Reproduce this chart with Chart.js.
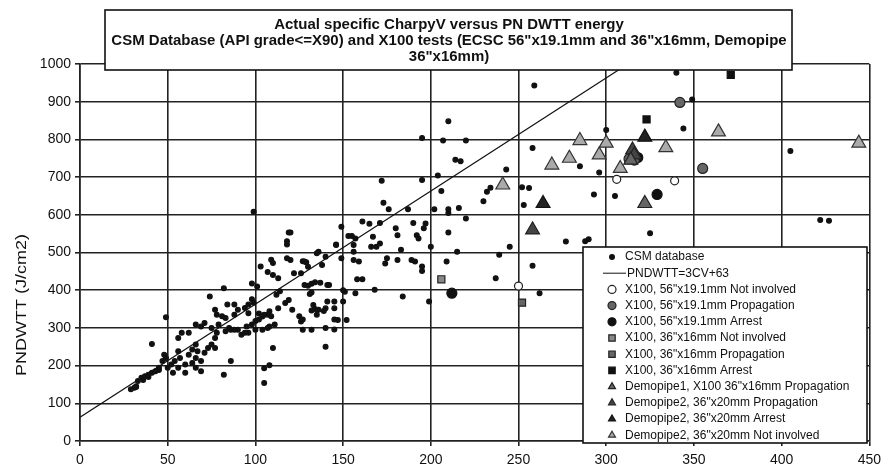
<!DOCTYPE html>
<html>
<head>
<meta charset="utf-8">
<script src="https://cdn.jsdelivr.net/npm/chart.js@4/dist/chart.umd.min.js"></script>
<style>
  html, body { margin: 0; padding: 0; background: #fff; }
  canvas { display: block; }
</style>
</head>
<body>
<canvas id="dwtt-chart" width="887" height="468"></canvas>
<script>
// Charpy V energy (J) vs PN DWTT energy (J/cm2)
const titleLines = [
    'Actual specific CharpyV versus PN DWTT energy',
    'CSM Database (API grade<=X90) and X100 tests (ECSC 56"x19.1mm and 36"x16mm, Demopipe',
    '36"x16mm)'
];
const yTitle = 'PNDWTT (J/cm2)';

const csmDatabase = [
    [29,137],[31,141],[32,145],[33,159],[32,143],[36,162],[39,170],[35,168],[37,172],[39,176],
    [41,181],[43,185],[45,188],[45,194],[47,212],[48,229],[49,220],[50,194],[52,203],[53,181],
    [54,212],[56,194],[56,238],[56,273],[57,220],[58,287],[60,181],[60,203],[62,229],[62,287],
    [64,207],[64,243],[66,194],[66,220],[66,256],[66,309],[67,238],[69,185],[69,212],[69,304],
    [71,234],[71,313],[73,247],[75,256],[75,300],[77,247],[77,273],[78,287],[78,335],[79,309],
    [41,257],[49,328],[74,383],[77,348],[82,405],[82,176],[86,212],[83,291],[83,326],[81,331],
    [85,300],[86,295],[88,295],[90,295],[92,282],[94,287],[95,304],[98,309],[100,318],[102,322],
    [105,335],[108,344],[111,309],[108,304],[107,300],[104,295],[100,295],[96,287],[88,335],[90,348],
    [94,353],[96,362],[88,362],[84,362],[98,376],[99,367],[102,338],[104,330],[96,339],[107,335],
    [109,331],[113,352],[117,366],[119,374],[121,348],[125,331],[127,322],[132,346],[134,350],[135,335],
    [140,352],[145,352],[145,322],[127,295],[132,295],[140,300],[145,296],[110,247],[140,250],[105,193],
    [108,201],[105,154],
    [99,608],[119,553],[120,553],[118,521],[118,530],[146,521],[136,502],[109,481],[110,472],[103,463],
    [118,485],[120,480],[128,476],[130,462],[140,489],[107,448],[110,440],[98,418],[101,410],[113,432],
    [122,445],[126,445],[132,417],[130,412],[141,414],[114,397],[112,388],
    [126,317],[131,390],[132,394],[128,414],[142,414],[137,420],[134,421],[127,477],[129,474],[135,498],
    [138,467],[139,345],[136,348],[133,361],[141,370],[145,370],[150,370],[147,321],[152,321],[151,396],
    [150,400],[157,392],[158,429],[161,429],[168,401],[184,383],[199,370],[149,485],[156,480],[159,476],
    [156,502],[146,520],[156,520],[166,515],[169,515],[171,524],[153,544],[155,544],[157,537],[167,542],
    [149,568],[161,582],[165,576],[171,578],[180,564],[181,546],[190,578],[192,546],[193,537],[196,564],
    [197,577],[175,485],[174,471],[181,480],[183,507],[189,480],[191,476],[195,463],[195,451],[200,515],
    [209,476],[215,502],[210,553],[220,590],[173,632],[176,615],[187,615],[202,615],[210,615],[210,605],
    [216,618],[230,636],[232,661],[234,672],[252,673],[256,671],[253,626],[206,663],[172,690],[195,692],
    [204,704],[243,720],[214,746],[217,742],[258,777],[195,804],[207,797],[220,797],[210,848],[259,943],
    [245,515],[239,494],[237,432],[258,465],[262,392],[277,529],[288,530],
    [349,906],[340,977],[344,829],[300,825],[405,769],[285,729],[296,712],[293,654],[305,650],[422,586],
    [427,584],[325,551],[290,535]
];

// PNDWTT = 3CV + 63, end points
const fitLine = [[0,63],[312.3,1000]];

const x100_56_notInvolved = [[250,411],[306,694],[339,690]];
const x100_56_propagation = [[342,898],[355,723],[316,745],[313,748]];
const x100_56_arrest = [[212,392],[329,654],[318,752]];
const x100_36_notInvolved = [[206,429]];
const x100_36_propagation = [[252,367]];
const x100_36_arrest = [[371,971],[323,853]];
const demo1_propagation = [[322,630],[314,745]];
const demo2_propagation = [[258,560],[315,772],[316,759]];
const demo2_arrest = [[264,630],[322,806]];
const demo2_notInvolved = [[241,679],[269,732],[279,750],[285,797],[300,790],[296,759],[334,778],[364,820],[444,790],[308,723]];

const toXY = pts => pts.map(p => ({x: p[0], y: p[1]}));

function series(label, pts, style, radius, fill, border, order) {
    return {
        label: label,
        data: toXY(pts),
        pointStyle: style,
        pointRadius: radius,
        pointHoverRadius: radius,
        backgroundColor: fill,
        borderColor: border,
        borderWidth: 1.2,
        order: order
    };
}

const FONT = '"Liberation Sans", Arial, sans-serif';

// white boxed title over the top of the plot, plus the y axis title
const titleBox = {
    id: 'titleBox',
    afterDraw(chart) {
        const ctx = chart.ctx;
        ctx.save();
        ctx.fillStyle = '#fff';
        ctx.fillRect(105, 10, 687, 60);
        ctx.strokeStyle = '#111';
        ctx.lineWidth = 1.6;
        ctx.strokeRect(105, 10, 687, 60);
        ctx.fillStyle = '#111';
        ctx.font = 'bold 14px ' + FONT;
        ctx.textAlign = 'center';
        ctx.textBaseline = 'middle';
        titleLines.forEach((t, i) => {
            ctx.save();
            ctx.translate(449, 25 + i * 16);
            ctx.scale(1.07, 1);
            ctx.fillText(t, 0, 0);
            ctx.restore();
        });
        ctx.translate(22, 305);
        ctx.rotate(-Math.PI / 2);
        ctx.scale(1.2, 1);
        ctx.font = '15px ' + FONT;
        ctx.fillText(yTitle, 0, 0);
        ctx.restore();
    }
};

function marker(ctx, ds, x, y) {
    const r = ds.pointRadius;
    ctx.fillStyle = ds.backgroundColor;
    ctx.strokeStyle = ds.borderColor;
    ctx.lineWidth = ds.borderWidth;
    ctx.beginPath();
    if (ds.pointStyle === 'rect') {
        ctx.rect(x - r * 0.8, y - r * 0.8, r * 1.6, r * 1.6);
    } else if (ds.pointStyle === 'triangle') {
        ctx.moveTo(x, y - r);
        ctx.lineTo(x + r * 0.87, y + r * 0.5);
        ctx.lineTo(x - r * 0.87, y + r * 0.5);
        ctx.closePath();
    } else {
        ctx.arc(x, y, r, 0, Math.PI * 2);
    }
    ctx.fill();
    ctx.stroke();
}

// boxed legend in the lower right of the plot
const boxLegend = {
    id: 'boxLegend',
    afterDraw(chart) {
        const ctx = chart.ctx;
        const left = 583, top = 247, w = 284, h = 196;
        ctx.save();
        ctx.fillStyle = '#fff';
        ctx.fillRect(left, top, w, h);
        ctx.strokeStyle = '#111';
        ctx.lineWidth = 1.6;
        ctx.strokeRect(left, top, w, h);
        ctx.font = '12px ' + FONT;
        ctx.textBaseline = 'middle';
        chart.data.datasets.forEach((ds, i) => {
            const y = top + 10 + i * 16.2;
            if (ds.showLine) {
                ctx.strokeStyle = ds.borderColor;
                ctx.lineWidth = 1;
                ctx.beginPath();
                ctx.moveTo(603, y);
                ctx.lineTo(626, y);
                ctx.stroke();
            } else {
                marker(ctx, Object.assign({}, ds, {pointRadius: Math.min(ds.pointRadius, 4)}), 612, y);
            }
            ctx.fillStyle = '#111';
            ctx.fillText(ds.label, ds.showLine ? 627 : 625, y);
        });
        ctx.restore();
    }
};

new Chart(document.getElementById('dwtt-chart'), {
    type: 'scatter',
    data: {
        datasets: [
            series('CSM database', csmDatabase, 'circle', 2.4, '#111', '#111', 10),
            {
                label: 'PNDWTT=3CV+63',
                data: toXY(fitLine),
                showLine: true,
                pointRadius: 0,
                borderColor: '#111',
                borderWidth: 1.2,
                order: 9
            },
            series('X100, 56"x19.1mm Not involved', x100_56_notInvolved, 'circle', 4, '#fff', '#222', 1),
            series('X100, 56"x19.1mm Propagation', x100_56_propagation, 'circle', 5, '#666', '#222', 1),
            series('X100, 56"x19.1mm Arrest', x100_56_arrest, 'circle', 5, '#111', '#111', 1),
            series('X100, 36"x16mm Not involved', x100_36_notInvolved, 'rect', 5, '#888', '#222', 1),
            series('X100, 36"x16mm Propagation', x100_36_propagation, 'rect', 5, '#666', '#222', 1),
            series('X100, 36"x16mm Arrest', x100_36_arrest, 'rect', 5, '#111', '#111', 1),
            series('Demopipe1, X100 36"x16mm Propagation', demo1_propagation, 'triangle', 8, '#666', '#222', 0),
            series('Demopipe2, 36"x20mm Propagation', demo2_propagation, 'triangle', 8, '#444', '#222', 0),
            series('Demopipe2, 36"x20mm Arrest', demo2_arrest, 'triangle', 8, '#222', '#111', 0),
            series('Demopipe2, 36"x20mm Not involved', demo2_notInvolved, 'triangle', 8, '#aaa', '#333', 0)
        ]
    },
    options: {
        responsive: false,
        animation: false,
        devicePixelRatio: 1,
        layout: { padding: { left: 0, right: 14, top: 64, bottom: 0 } },
        plugins: {
            legend: { display: false },
            title: { display: false },
            tooltip: { enabled: false }
        },
        scales: {
            x: {
                type: 'linear',
                min: 0,
                max: 450,
                ticks: { stepSize: 50, color: '#111', font: { family: FONT, size: 14 }, padding: 6,
                         callback: v => String(v) },
                grid: { color: '#222', lineWidth: 1.6, tickLength: 5 },
                border: { color: '#222', width: 1.6 },
                afterFit(scale) { scale.height = 27; }
            },
            y: {
                min: 0,
                max: 1000,
                ticks: { stepSize: 100, color: '#111', font: { family: FONT, size: 14 }, padding: 4,
                         callback: v => String(v) },
                grid: { color: '#222', lineWidth: 1.6, tickLength: 5 },
                border: { color: '#222', width: 1.6 },
                afterFit(scale) { scale.width = 80; }
            }
        }
    },
    plugins: [titleBox, boxLegend]
});
</script>
</body>
</html>
